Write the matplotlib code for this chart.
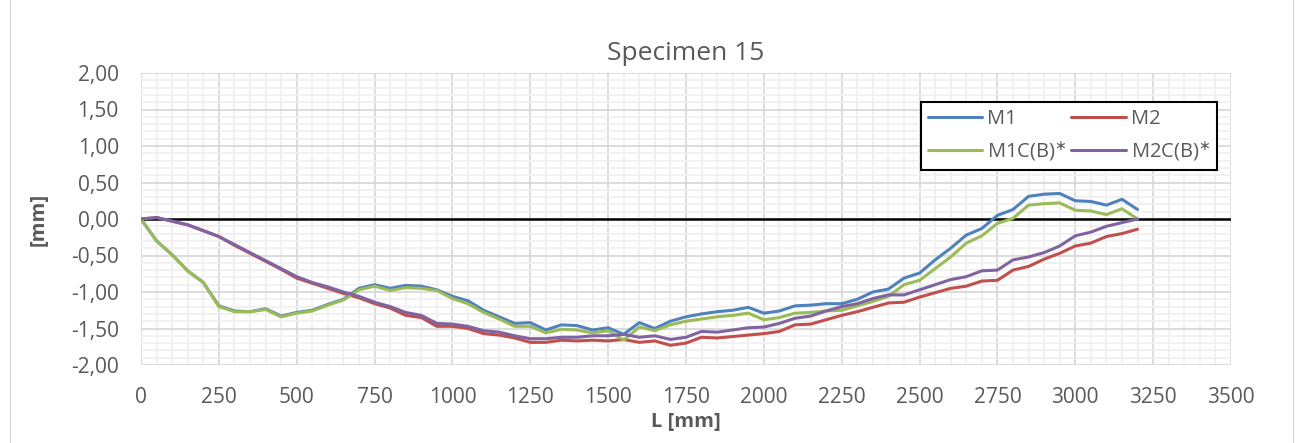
import matplotlib
matplotlib.use("Agg")
import matplotlib.pyplot as plt
from matplotlib.ticker import MultipleLocator, FuncFormatter
from matplotlib.patches import Rectangle

L_mm = [0, 50, 100, 150, 200, 250, 300, 350, 400, 450, 500, 550, 600, 650, 700, 750,
        800, 850, 900, 950, 1000, 1050, 1100, 1150, 1200, 1250, 1300, 1350, 1400, 1450,
        1500, 1550, 1600, 1650, 1700, 1750, 1800, 1850, 1900, 1950, 2000, 2050, 2100,
        2150, 2200, 2250, 2300, 2350, 2400, 2450, 2500, 2550, 2600, 2650, 2700, 2750,
        2800, 2850, 2900, 2950, 3000, 3050, 3100, 3150, 3200]

M1 = [0.00, -0.30, -0.49, -0.71, -0.87, -1.19, -1.26, -1.27, -1.23, -1.33, -1.28, -1.25,
      -1.17, -1.10, -0.95, -0.90, -0.95, -0.91, -0.92, -0.97, -1.06, -1.12, -1.25, -1.34,
      -1.43, -1.42, -1.52, -1.45, -1.46, -1.52, -1.49, -1.58, -1.42, -1.50, -1.40, -1.34,
      -1.30, -1.27, -1.25, -1.21, -1.29, -1.26, -1.19, -1.18, -1.16, -1.16, -1.10, -1.00,
      -0.96, -0.81, -0.74, -0.56, -0.40, -0.22, -0.13, 0.05, 0.13, 0.31, 0.34, 0.35, 0.25,
      0.24, 0.19, 0.27, 0.13]

M2 = [0.00, 0.02, -0.03, -0.08, -0.16, -0.24, -0.36, -0.47, -0.58, -0.69, -0.81, -0.88,
      -0.95, -1.02, -1.08, -1.16, -1.22, -1.32, -1.35, -1.47, -1.47, -1.50, -1.57, -1.59,
      -1.63, -1.69, -1.69, -1.66, -1.67, -1.66, -1.67, -1.65, -1.69, -1.67, -1.73, -1.70,
      -1.62, -1.63, -1.61, -1.59, -1.57, -1.54, -1.45, -1.44, -1.38, -1.32, -1.27, -1.21,
      -1.15, -1.14, -1.07, -1.01, -0.95, -0.92, -0.85, -0.84, -0.70, -0.65, -0.55, -0.47,
      -0.37, -0.33, -0.24, -0.20, -0.14]

M1C_B = [0.00, -0.30, -0.49, -0.71, -0.87, -1.20, -1.27, -1.27, -1.24, -1.34, -1.29, -1.26,
         -1.18, -1.11, -0.97, -0.92, -0.98, -0.94, -0.95, -0.98, -1.09, -1.16, -1.28, -1.37,
         -1.47, -1.47, -1.56, -1.51, -1.52, -1.56, -1.53, -1.66, -1.48, -1.53, -1.45, -1.40,
         -1.37, -1.34, -1.32, -1.29, -1.38, -1.35, -1.29, -1.28, -1.26, -1.25, -1.19, -1.13,
         -1.06, -0.90, -0.84, -0.68, -0.52, -0.33, -0.23, -0.06, 0.01, 0.19, 0.21, 0.22,
         0.12, 0.11, 0.06, 0.14, 0.00]

M2C_B = [0.00, 0.02, -0.03, -0.08, -0.16, -0.24, -0.35, -0.46, -0.57, -0.68, -0.79, -0.87,
         -0.93, -1.00, -1.06, -1.14, -1.20, -1.28, -1.32, -1.43, -1.44, -1.47, -1.53, -1.55,
         -1.60, -1.64, -1.64, -1.62, -1.62, -1.60, -1.60, -1.58, -1.62, -1.60, -1.65, -1.62,
         -1.54, -1.55, -1.52, -1.49, -1.48, -1.43, -1.36, -1.33, -1.26, -1.20, -1.16, -1.09,
         -1.04, -1.04, -0.97, -0.90, -0.83, -0.79, -0.71, -0.70, -0.56, -0.52, -0.46, -0.37,
         -0.23, -0.18, -0.10, -0.05, 0.00]

series_names = ["M1", "M2", "M1C(B)$^{\\ast}$", "M2C(B)$^{\\ast}$"]
series_colors = ["#4F81BD", "#C0504D", "#9BBB59", "#8064A2"]

plt.rcParams['font.family'] = ['Open Sans', 'DejaVu Sans']

W, H = 1297, 443
fig = plt.figure(figsize=(W / 100, H / 100), dpi=100)
fig.patch.set_facecolor("white")

# chart border
fig.add_artist(Rectangle((10 / W, -0.01), (1293 - 10) / W, 1.05, transform=fig.transFigure,
                         fill=False, edgecolor="#D9D9D9", linewidth=1.0))

ax = fig.add_axes([141 / W, 1 - 365 / H, (1231 - 141) / W, (365 - 73) / H])
ax.set_xlim(0, 3500)
ax.set_ylim(-2.0, 2.0)

ax.xaxis.set_major_locator(MultipleLocator(250))
ax.xaxis.set_minor_locator(MultipleLocator(50))
ax.yaxis.set_major_locator(MultipleLocator(0.5))
ax.yaxis.set_minor_locator(MultipleLocator(0.1))
ax.yaxis.set_major_formatter(FuncFormatter(lambda v, p: f"{v:.2f}".replace(".", ",")))

ax.grid(which="minor", color="#F0F0F0", linewidth=1.3, zorder=0)
ax.grid(which="major", color="#D9D9D9", linewidth=1.3, zorder=0)
ax.set_axisbelow(True)
for s in ax.spines.values():
    s.set_visible(False)
ax.tick_params(which="both", length=0)
ax.tick_params(axis="both", labelsize=15, colors="#595959")
ax.tick_params(axis="x", pad=16)
ax.tick_params(axis="y", pad=16)

ax.axhline(0, color="black", linewidth=1.8, zorder=1)

lines = []
for ys, name, c in zip([M1, M2, M1C_B, M2C_B], series_names, series_colors):
    ln, = ax.plot(L_mm, ys, color=c, linewidth=2.2, label=name, zorder=2,
                  solid_joinstyle="round", solid_capstyle="round")
    lines.append(ln)

ax.set_title("Specimen 15", fontsize=19, color="#595959", pad=9)
ax.set_xlabel("L [mm]", fontsize=14.5, fontweight="bold", color="#595959", labelpad=3)
ax.set_ylabel("[mm]", fontsize=14.5, fontweight="bold", color="#595959", labelpad=16)

aw = 1231 - 141
ah = 365 - 73
x0 = (921 - 141) / aw
x1 = (1217 - 141) / aw
ytop = 1 - (102 - 73) / ah
order = [0, 2, 1, 3]
leg = ax.legend([lines[i] for i in order], [series_names[i] for i in order],
                ncol=2, loc="upper left", mode="expand",
                bbox_to_anchor=(x0, ytop - 0.3, x1 - x0, 0.3),
                fontsize=14.5, frameon=True, fancybox=False, framealpha=1,
                edgecolor="black", handlelength=2.7, columnspacing=0.6,
                borderpad=0.35, labelspacing=0.5, handletextpad=0.25, borderaxespad=0)
leg.get_frame().set_linewidth(1.5)
for t in leg.get_texts():
    t.set_color("#595959")

fig.savefig("out.png", dpi=100, facecolor="white")
